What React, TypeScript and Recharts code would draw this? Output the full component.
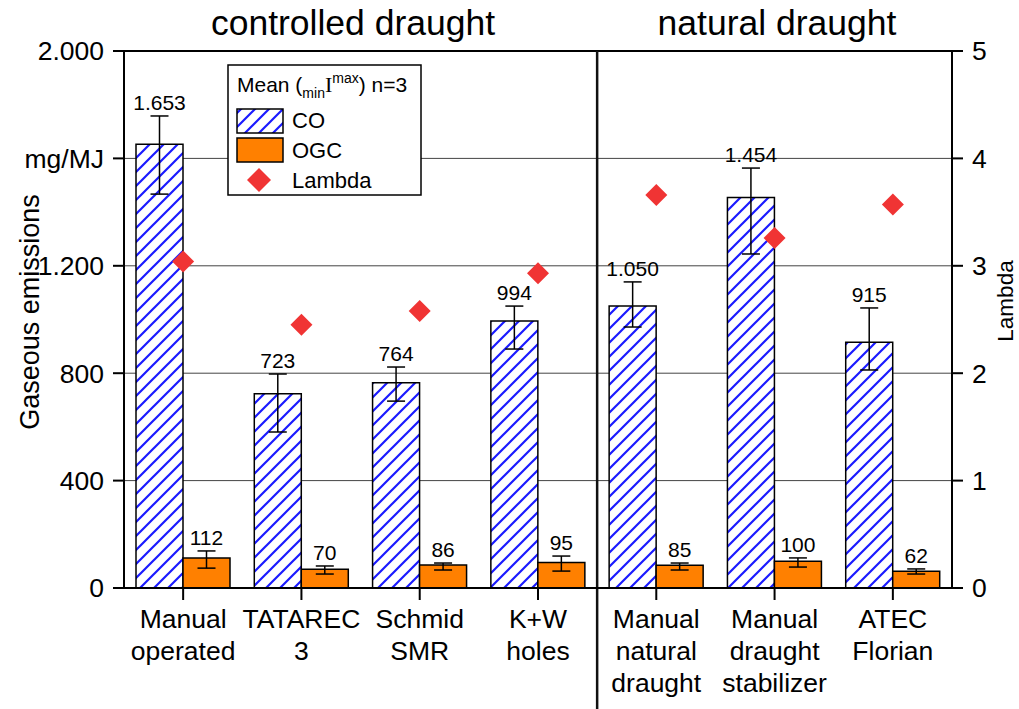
import React from 'react';
import {
  ComposedChart, Bar, Scatter, XAxis, YAxis, CartesianGrid, ErrorBar, LabelList, ReferenceLine,
} from 'recharts';

const categories = [
  'Manual\noperated',
  'TATAREC\n3',
  'Schmid\nSMR',
  'K+W\nholes',
  'Manual\nnatural\ndraught',
  'Manual\ndraught\nstabilizer',
  'ATEC\nFlorian',
];

// CO mean, min, max (mg/MJ)
const coMean = [1653, 723, 764, 994, 1050, 1454, 915];
const coMin = [1467, 581, 696, 890, 972, 1244, 812];
const coMax = [1758, 797, 823, 1050, 1140, 1564, 1043];

// OGC mean, min, max (mg/MJ)
const ogcMean = [112, 70, 86, 95, 85, 100, 62];
const ogcMin = [74, 52, 67, 63, 67, 78, 52];
const ogcMax = [138, 82, 93, 119, 93, 112, 71];

const lambda = [3.04, 2.45, 2.58, 2.93, 3.66, 3.26, 3.57];

const leftTicks = [0, 400, 800, 1200, 1600, 2000];
const rightTicks = [0, 1, 2, 3, 4, 5];

const data = categories.map((name, i) => ({
  name,
  co: coMean[i],
  coErr: [coMean[i] - coMin[i], coMax[i] - coMean[i]],
  ogc: ogcMean[i],
  ogcErr: [ogcMean[i] - ogcMin[i], ogcMax[i] - ogcMean[i]],
  lambda: lambda[i],
}));

const FONT = '"Liberation Sans", Arial, sans-serif';
const BLUE = '#1a1aff';
const ORANGE = '#ff8000';
const RED = '#f03434';

// german thousands separator
const fmt = (v: number) =>
  v >= 1000 ? `${Math.floor(v / 1000)}.${String(v % 1000).padStart(3, '0')}` : String(v);

const XTick = (props: any) => {
  const { x, y, payload } = props;
  const lines = String(payload.value).split('\n');
  return (
    <text x={x} y={y + 26} textAnchor="middle" fontSize={26.5} fill="#000">
      {lines.map((l, i) => (
        <tspan key={i} x={x} dy={i === 0 ? 0 : 32}>{l}</tspan>
      ))}
    </text>
  );
};

// label sits above the top of the error bar
const makeLabel = (means: number[], maxes: number[]) => (props: any) => {
  const vb = props.viewBox || props;
  const x = Number(vb.x ?? props.x);
  const y = Number(vb.y ?? props.y);
  const w = Number(vb.width ?? props.width);
  const h = Number(vb.height ?? props.height);
  const value = Number(props.value);
  const i = means.indexOf(value);
  const top = y - ((maxes[i] - value) / value) * h;
  return (
    <text x={x + w / 2} y={top - 6} textAnchor="middle" fontSize={21} fill="#000">
      {fmt(value)}
    </text>
  );
};

const Diamond = (props: any) => {
  const { cx, cy } = props;
  const r = 11;
  return <polygon points={`${cx},${cy - r} ${cx + r},${cy} ${cx},${cy + r} ${cx - r},${cy}`} fill={RED} />;
};

const Divider = (p: any) => {
  const top = Math.min(p.y1, p.y2);
  const bottom = Math.max(p.y1, p.y2);
  return <line x1={p.x1} x2={p.x2} y1={top} y2={bottom + 121} stroke="#111" strokeWidth={2.5} />;
};

const Hatch = ({ id }: { id: string }) => (
  <pattern id={id} patternUnits="userSpaceOnUse" width={14} height={14}>
    <rect width={14} height={14} fill="#fff" />
    <path d="M-2,2 L2,-2 M0,14 L14,0 M12,16 L16,12" stroke={BLUE} strokeWidth={2.2} />
  </pattern>
);

export default function App() {
  return (
    <div style={{ position: 'absolute', left: 0, top: 0, width: 1019, height: 709, fontFamily: FONT, background: '#fff' }}>
      <svg width={0} height={0} style={{ position: 'absolute' }}>
        <defs>
          <Hatch id="coHatch" />
        </defs>
      </svg>
      <ComposedChart width={1019} height={709} data={data} margin={{ top: 51, right: 0, bottom: 0, left: 0 }} barGap={0}>
        <CartesianGrid yAxisId="left" vertical={false} stroke="#444" strokeWidth={1} />
        <XAxis
          dataKey="name"
          height={121}
          interval={0}
          tickSize={12}
          tick={<XTick />}
          axisLine={{ stroke: '#000', strokeWidth: 2 }}
          tickLine={{ stroke: '#000', strokeWidth: 2 }}
        />
        <YAxis
          yAxisId="left"
          width={124}
          domain={[0, 2000]}
          ticks={leftTicks}
          tickSize={11}
          tickMargin={9}
          tickFormatter={(v: number) => (v === 1600 ? 'mg/MJ' : fmt(v))}
          tick={{ fill: '#000', fontSize: 26.5 }}
          axisLine={{ stroke: '#000', strokeWidth: 2 }}
          tickLine={{ stroke: '#000', strokeWidth: 2 }}
        />
        <YAxis
          yAxisId="right"
          orientation="right"
          width={67}
          domain={[0, 5]}
          ticks={rightTicks}
          tickSize={11}
          tickMargin={9}
          tick={{ fill: '#000', fontSize: 26.5 }}
          axisLine={{ stroke: '#000', strokeWidth: 2 }}
          tickLine={{ stroke: '#000', strokeWidth: 2 }}
        />
        <ReferenceLine yAxisId="left" y={2000} stroke="#000" strokeWidth={2} />
        <Bar yAxisId="left" dataKey="co" barSize={47} fill="url(#coHatch)" stroke="#000" strokeWidth={1.5} isAnimationActive={false}>
          <ErrorBar dataKey="coErr" width={9} stroke="#000" strokeWidth={1.5} />
          <LabelList dataKey="co" content={makeLabel(coMean, coMax)} />
        </Bar>
        <Bar yAxisId="left" dataKey="ogc" barSize={47} fill={ORANGE} stroke="#000" strokeWidth={1.5} isAnimationActive={false}>
          <ErrorBar dataKey="ogcErr" width={9} stroke="#000" strokeWidth={1.5} />
          <LabelList dataKey="ogc" content={makeLabel(ogcMean, ogcMax)} />
        </Bar>
        <Scatter yAxisId="right" dataKey="lambda" shape={<Diamond />} isAnimationActive={false} />
        <ReferenceLine yAxisId="left" x={categories[4]} position="start" shape={<Divider />} />
      </ComposedChart>

      <svg width={1019} height={709} style={{ position: 'absolute', left: 0, top: 0, pointerEvents: 'none' }}>
        <defs>
          <Hatch id="legendHatch" />
        </defs>
        <text x={353} y={35} textAnchor="middle" fontSize={35.5} fill="#000">controlled draught</text>
        <text x={777} y={35} textAnchor="middle" fontSize={35.5} fill="#000">natural draught</text>
        <text transform="translate(39,312) rotate(-90)" textAnchor="middle" fontSize={27} fill="#000">Gaseous emissions</text>
        <text transform="translate(1013,301) rotate(-90)" textAnchor="middle" fontSize={22.5} fill="#000">Lambda</text>

        <rect x={228} y={65} width={193} height={130} fill="#fff" stroke="#000" strokeWidth={1.5} />
        <text x={237} y={92} fontSize={21} fill="#000">
          Mean (
          <tspan fontSize={14} dy={6}>min</tspan>
          <tspan fontFamily='"Liberation Serif", serif' fontSize={22} dy={-6}>I</tspan>
          <tspan fontSize={14} dy={-9}>max</tspan>
          <tspan dy={9}>) n=3</tspan>
        </text>
        <rect x={237} y={109} width={46} height={24} fill="url(#legendHatch)" stroke="#000" strokeWidth={1.5} />
        <text x={292} y={128} fontSize={22} fill="#000">CO</text>
        <rect x={237} y={138} width={46} height={24} fill={ORANGE} stroke="#000" strokeWidth={1.5} />
        <text x={292} y={158} fontSize={22} fill="#000">OGC</text>
        <polygon points="259,168 271,180 259,192 247,180" fill={RED} />
        <text x={292} y={188} fontSize={22} fill="#000">Lambda</text>
      </svg>
    </div>
  );
}
